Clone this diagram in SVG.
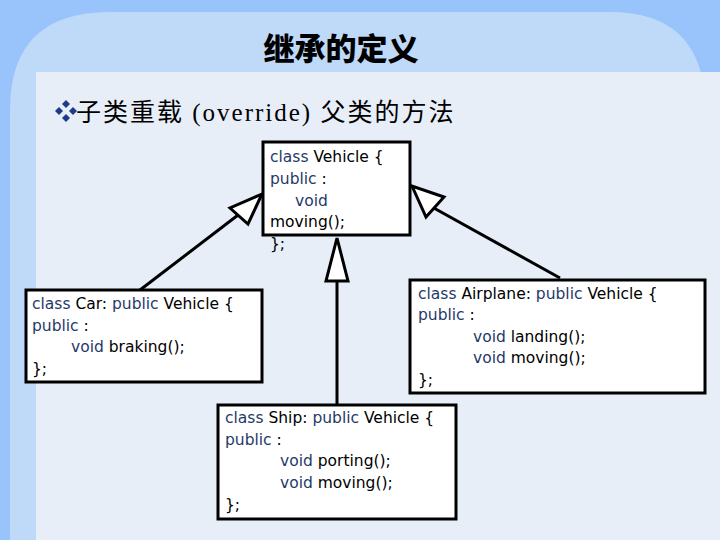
<svg xmlns="http://www.w3.org/2000/svg" width="720" height="540" viewBox="0 0 720 540">
<style>
.box{fill:#fff;stroke:#000;stroke-width:3}
.t{font-family:"DejaVu Sans","Liberation Sans",sans-serif;font-size:15.5px;fill:#000}
.k{fill:#1f3a68}
.ln{stroke:#000;stroke-width:3;fill:none}
.hd{fill:#fff;stroke:#000;stroke-width:3;stroke-linejoin:miter}
</style>
<rect width="720" height="540" fill="#99c4fb"/>
<path d="M10 540 V110 Q10 12 110 12 H610 Q700 12 705 100 V540 Z" fill="#bfd9f9"/>
<rect x="36" y="72" width="684" height="468" fill="#e8eef8"/>
<text x="341" y="60" text-anchor="middle" font-family="'Noto Sans CJK SC',sans-serif" font-weight="900" font-size="31" fill="#000">继承的定义</text>
<g id="bullet" fill="#1f3a8a"><path d="M55 111l4-4 4 4-4 4z M62 104l4-4 4 4-4 4z M62 118l4-4 4 4-4 4z M69 111l4-4 4 4-4 4z"/></g>
<text x="76" y="121" font-family="'Liberation Serif','Noto Sans CJK SC',serif" font-size="25" letter-spacing="2" fill="#000">子类重载 (override) 父类的方法</text>
<g id="connectors">
<line class="ln" x1="140" y1="290" x2="242" y2="212"/>
<polygon class="hd" points="262,194 230,208 248,224"/>
<line class="ln" x1="560" y1="278" x2="432" y2="207"/>
<polygon class="hd" points="412,186 426,217 444,197"/>
<line class="ln" x1="337" y1="405" x2="337" y2="281"/>
<polygon class="hd" points="337,238 326,281 348,281"/>
</g>
<g id="vehicle">
<rect class="box" x="263" y="142" width="147" height="93"/>
<text class="t"><tspan x="270" y="162"><tspan class="k">class</tspan> Vehicle {</tspan><tspan x="270" y="184" class="k">public <tspan fill="#000">:</tspan></tspan><tspan x="295" y="206" class="k">void</tspan><tspan x="270" y="227">moving();</tspan><tspan x="270" y="249">};</tspan></text>
</g>
<g id="car">
<rect class="box" x="26" y="290" width="236" height="92"/>
<text class="t"><tspan x="32" y="309"><tspan class="k">class</tspan> Car: <tspan class="k">public</tspan>  Vehicle {</tspan><tspan x="32" y="331" class="k">public <tspan fill="#000">:</tspan></tspan><tspan x="71" y="352"><tspan class="k">void</tspan> braking();</tspan><tspan x="32" y="374">};</tspan></text>
</g>
<g id="airplane">
<rect class="box" x="410" y="280" width="295" height="113"/>
<text class="t"><tspan x="418" y="299"><tspan class="k">class</tspan> Airplane: <tspan class="k">public</tspan>  Vehicle {</tspan><tspan x="418" y="320" class="k">public <tspan fill="#000">:</tspan></tspan><tspan x="473" y="342"><tspan class="k">void</tspan> landing();</tspan><tspan x="473" y="363"><tspan class="k">void</tspan> moving();</tspan><tspan x="418" y="385">};</tspan></text>
</g>
<g id="ship">
<rect class="box" x="218" y="405" width="238" height="114"/>
<text class="t"><tspan x="225" y="423"><tspan class="k">class</tspan> Ship: <tspan class="k">public</tspan>  Vehicle {</tspan><tspan x="225" y="445" class="k">public <tspan fill="#000">:</tspan></tspan><tspan x="280" y="466"><tspan class="k">void</tspan> porting();</tspan><tspan x="280" y="488"><tspan class="k">void</tspan> moving();</tspan><tspan x="225" y="510">};</tspan></text>
</g>
</svg>
